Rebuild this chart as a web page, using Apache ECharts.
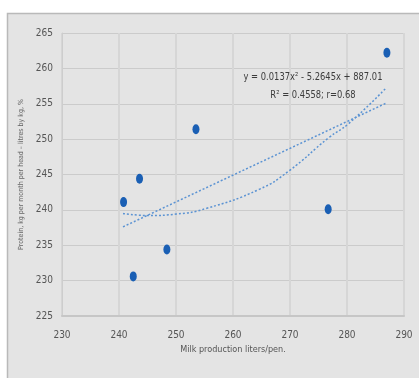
<!DOCTYPE html>
<html>
<head>
<meta charset="utf-8">
<style>
  html, body { margin: 0; padding: 0; background: #fff; }
  #chart { width: 419px; height: 378px; }
</style>
<script src="https://cdn.jsdelivr.net/npm/echarts@6/dist/echarts.min.js"></script>
</head>
<body>
<div id="chart"></div>
<script>
// scatter points: milk production vs protein
const milkX = [240.8, 243.6, 242.5, 248.4, 253.5, 276.7, 287.0]
const proteinY = [241.1, 244.4, 230.6, 234.4, 251.4, 240.1, 262.2]

// trend lines
const linearTrendX = [240.7, 286.9]
const linearTrendY = [237.6, 255.1]
const polyTrendX = [240.7, 245.3, 250.0, 255.3, 264.6, 269.8, 276.8, 280.3, 286.7]
const polyTrendY = [239.5, 239.2, 239.4, 240.2, 242.9, 245.5, 250.2, 252.2, 257.1]

const xTicks = [230, 240, 250, 260, 270, 280, 290]
const yTicks = [225, 230, 235, 240, 245, 250, 255, 260, 265]

const eqText = 'y = 0.0137x\u00b2 - 5.2645x + 887.01'
const r2Text = 'R\u00b2 = 0.4558; r=0.68'

const narrow = '"Liberation Sans Narrow", "DejaVu Sans Condensed", "Liberation Sans", sans-serif'
const pair = (xs, ys) => xs.map((x, i) => [x, ys[i]])

const chart = echarts.init(document.getElementById('chart'))

const option = {
    animation: false,
    backgroundColor: '#fff',
    graphic: [
        {
            type: 'rect',
            z: -10,
            shape: {x: 7.5, y: 13.5, width: 420, height: 380},
            style: {fill: '#e4e4e4', stroke: '#b9b9b9', lineWidth: 1.5}
        },
        {
            type: 'text',
            z: 20,
            x: 313, y: 77, scaleX: 0.93,
            style: {text: eqText, font: '10px ' + narrow, fill: '#3c3c3c',
                textAlign: 'center', textVerticalAlign: 'middle'}
        },
        {
            type: 'text',
            z: 20,
            x: 313, y: 95, scaleX: 0.93,
            style: {text: r2Text, font: '10px ' + narrow, fill: '#3c3c3c',
                textAlign: 'center', textVerticalAlign: 'middle'}
        }
    ],
    grid: {
        left: 62,
        top: 33,
        right: 15,
        bottom: 62
    },
    xAxis: {
        type: 'value',
        min: xTicks[0],
        max: xTicks[xTicks.length - 1],
        interval: 10,
        name: 'Milk production liters/pen.',
        nameLocation: 'middle',
        nameGap: 26,
        nameTextStyle: {color: '#555', fontSize: 9, fontFamily: narrow},
        axisLine: {lineStyle: {color: '#c6c6c6', width: 2}},
        axisTick: {show: false},
        axisLabel: {color: '#555', fontSize: 10, fontFamily: narrow, margin: 14},
        splitLine: {lineStyle: {color: '#d6d6d6', width: 2}}
    },
    yAxis: {
        type: 'value',
        min: yTicks[0],
        max: yTicks[yTicks.length - 1],
        interval: 5,
        name: 'Protein, kg per month per head \u2013 litres by kg, %',
        nameLocation: 'middle',
        nameGap: 33,
        nameTextStyle: {color: '#666', fontSize: 7, fontFamily: narrow},
        axisLine: {show: true, lineStyle: {color: '#cdcdcd', width: 1}},
        axisTick: {show: false},
        axisLabel: {color: '#555', fontSize: 10, fontFamily: narrow, margin: 9},
        splitLine: {lineStyle: {color: '#cbcbcb', width: 1}}
    },
    series: [
        {
            type: 'line',
            data: pair(linearTrendX, linearTrendY),
            showSymbol: false,
            lineStyle: {color: '#5b93d3', width: 1.5, type: [2, 2]},
            z: 2
        },
        {
            type: 'line',
            data: pair(polyTrendX, polyTrendY),
            smooth: true,
            showSymbol: false,
            lineStyle: {color: '#5b93d3', width: 1.5, type: [2, 2]},
            z: 2
        },
        {
            type: 'scatter',
            data: pair(milkX, proteinY),
            symbol: 'circle',
            symbolSize: [7, 10],
            itemStyle: {color: '#1a5fb4', opacity: 1},
            z: 3
        }
    ]
}

chart.setOption(option)
</script>
</body>
</html>
